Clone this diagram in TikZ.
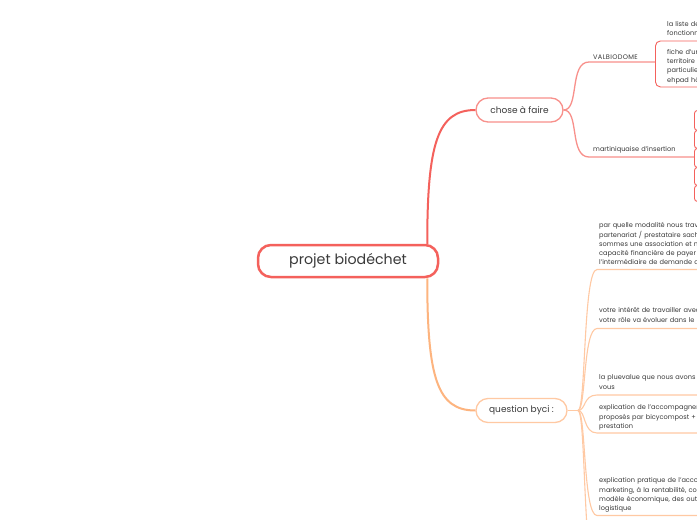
\documentclass[tikz,border=0pt]{standalone}
\usepackage{fontspec}
\setmainfont{Poppins}
\usepackage{tikz}
\usetikzlibrary{positioning}

\definecolor{mmred}{HTML}{F4615C}
\definecolor{mmredl}{HTML}{F8908B}
\definecolor{mmorange}{HTML}{FDB47F}
\definecolor{mmorangel}{HTML}{FFC9A3}
\definecolor{txtgray}{HTML}{3A3A3A}

\begin{document}
\begin{tikzpicture}[x=1pt, y=-1pt,
    every node/.style={text=txtgray, inner sep=0pt},
    root/.style={draw=mmred, line width=2.5pt, rounded corners=13pt,
                 minimum width=180pt, minimum height=32pt,
                 font=\fontsize{14.2}{16}\selectfont},
    topic/.style={line width=1.3pt, rounded corners=12pt, minimum height=24pt,
                  font=\fontsize{9}{11}\selectfont},
    leaf/.style={anchor=base west, text width=150pt, align=left,
                 font=\fontsize{6.6}{9.2}\selectfont},
    leafbox/.style={draw=mmred, line width=0.9pt, rounded corners=5pt,
                    anchor=north west, minimum width=80pt},
    redbranch/.style={draw=mmred, line width=2pt},
    orbranch/.style={draw=mmorange, line width=2pt},
    redline/.style={draw=mmredl, line width=1.3pt},
    orline/.style={draw=mmorangel, line width=1.1pt}
]
\fill[white] (0,0) rectangle (697,520);
\useasboundingbox (0,0) rectangle (697,520);
\clip (0,0) rectangle (697,520);

% central topic and main branches
\node[root] (root) at (348,261) {projet biodéchet};
\node[topic, draw=mmredl, minimum width=87pt] (todo) at (519.5,110) {chose à faire};
\node[topic, draw=mmorangel, minimum width=91pt] (byci) at (521.5,410.5) {question byci :};

\draw[redbranch] ([xshift=-12pt]root.north east) .. controls +(0,-100) and +(-38,0) .. (todo.west);
\draw[orbranch] ([xshift=-12pt]root.south east) .. controls +(0,100) and +(-38,0) .. (byci.west);

% chose a faire
\node[leaf, font=\fontsize{6.6}{9.2}\selectfont\addfontfeature{LetterSpace=5}] (valbio) at (593,59.2) {VALBIODOME};
\node[leaf] (marti) at (593,151.8) {martiniquaise d'insertion};
\coordinate (vb) at (589,62);
\coordinate (mq) at (589,157);

\node[leaf] (liste) at (667,26.3) {la liste des\\fonctionnement};
\node[leafbox, minimum height=46pt] (fiche) at (655,40.5) {};
\node[leaf] (fichetxt) at (667,54.5) {fiche d'une\\territoire\\particulier\\ehpad hôpital};

\foreach \y/\h [count=\i] in {110/20, 130/18, 148/19, 167/18, 185/16}
  \node[leafbox, rounded corners=3pt, minimum height=\h] (m\i) at (694,\y) {};

\draw[redline] (todo.east) .. controls +(16,0) and +(-20,0) .. (vb) -- (vb -| fiche.west);
\draw[redline] (todo.east) .. controls +(16,0) and +(-20,0) .. (mq) -- (mq -| m3.west);

% question byci
\node[leaf] (q1) at (599,227.8) {par quelle modalité nous travaillons\\partenariat / prestataire sachant\\sommes une association et non\\capacité financière de payer\\l'intermédiaire de demande de};
\node[leaf] (q2) at (599,312.8) {votre intérêt de travailler avec\\votre rôle va évoluer dans le};
\node[leaf] (q3) at (599,379.8) {la pluevalue que nous avons\\vous};
\node[leaf] (q4) at (599,409.8) {explication de l'accompagnement\\proposés par bicycompost +\\prestation};
\node[leaf] (q5) at (599,482.8) {explication pratique de l'accompagnement\\marketing, à la rentabilité,  co\\modèle économique, des outils\\logistique};

\coordinate (qj) at (578,410.5);
\draw[orline] (byci.east) -- (qj);
\foreach \y [count=\i] in {269.5, 328.5, 395, 433, 515.5, 580}{
  \coordinate (u\i) at (597,\y);
  \draw[orline] (qj) .. controls +(8,0) and +(-14,0) .. (u\i) -- ++(130,0);
}
\end{tikzpicture}
\end{document}
